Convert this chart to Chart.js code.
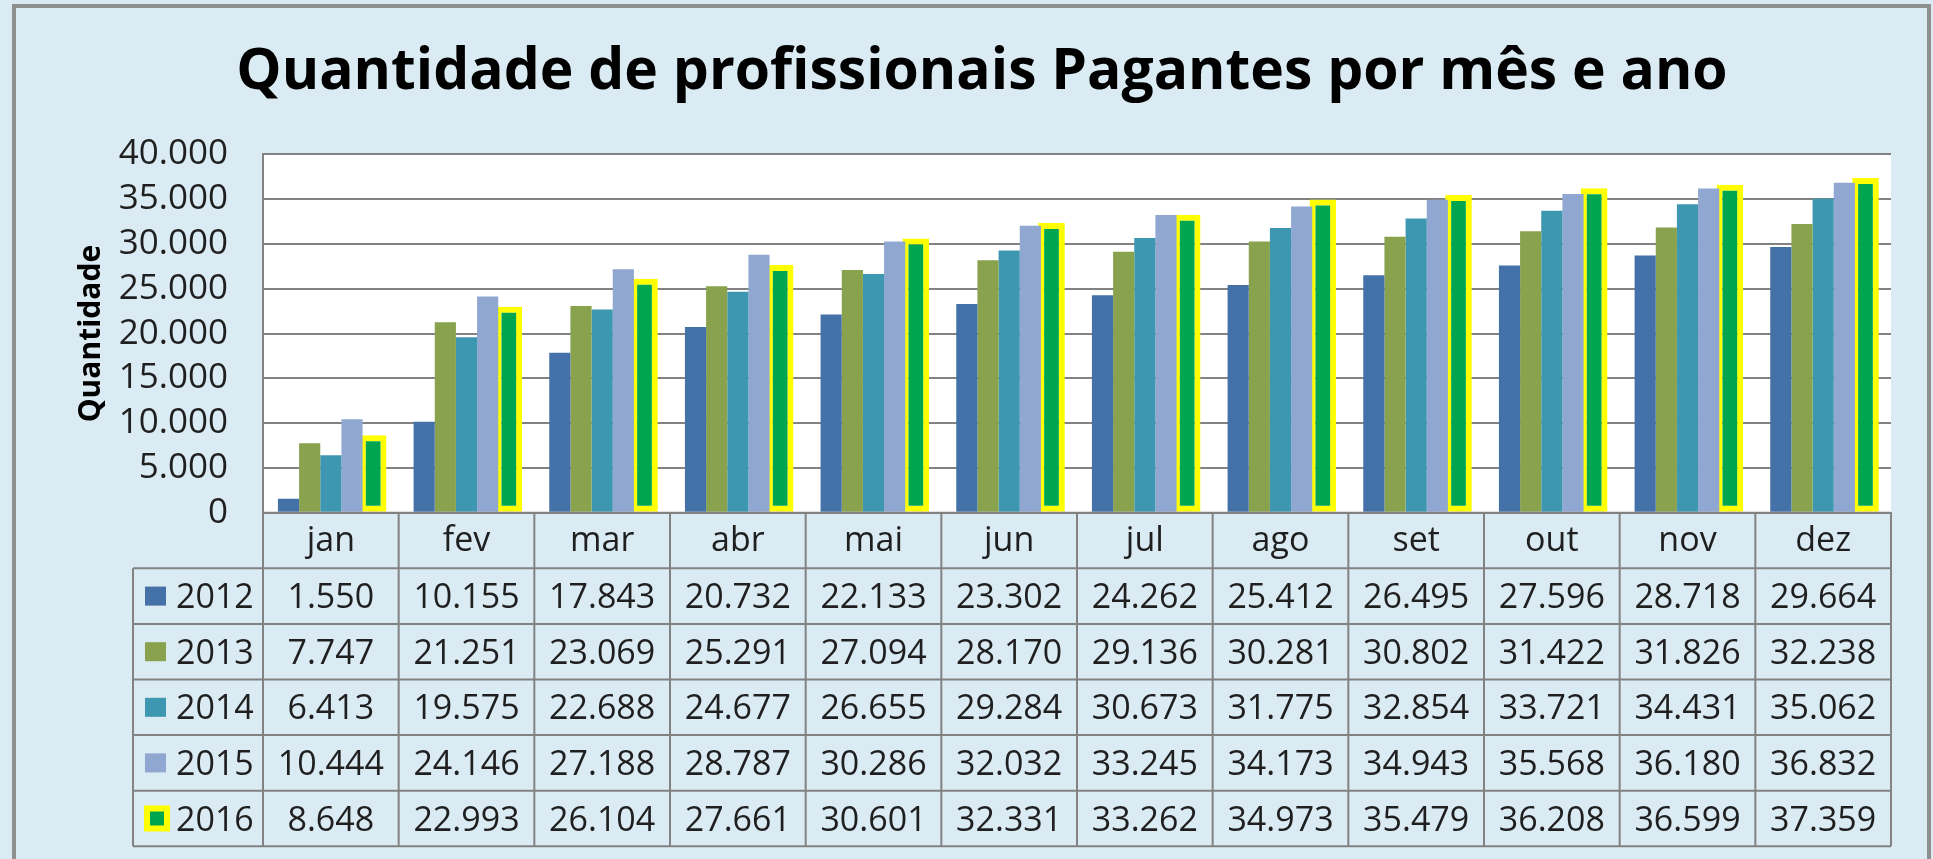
<!DOCTYPE html>
<html><head><meta charset="utf-8">
<script src="https://cdn.jsdelivr.net/npm/chart.js@4.4.1/dist/chart.umd.min.js"></script>
<style>
html,body{margin:0;padding:0;background:#fff;overflow:hidden}
#wrap{width:1933px;height:859px;position:relative}
#pre{position:absolute;left:-9999px;font-family:"Open Sans"}
</style>
</head><body>
<div id="pre"><span style="font-weight:700">Aa</span><span>Aa</span></div>
<div id="wrap"><canvas id="c" width="1933" height="859"></canvas></div>
<script>
const months = ['jan','fev','mar','abr','mai','jun','jul','ago','set','out','nov','dez'];
const years = ['2012','2013','2014','2015','2016'];
const v2012 = [1550,10155,17843,20732,22133,23302,24262,25412,26495,27596,28718,29664];
const v2013 = [7747,21251,23069,25291,27094,28170,29136,30281,30802,31422,31826,32238];
const v2014 = [6413,19575,22688,24677,26655,29284,30673,31775,32854,33721,34431,35062];
const v2015 = [10444,24146,27188,28787,30286,32032,33245,34173,34943,35568,36180,36832];
const v2016 = [8648,22993,26104,27661,30601,32331,33262,34973,35479,36208,36599,37359];
const yMin = 0, yMax = 40000, yStep = 5000;
const titleText = 'Quantidade de profissionais Pagantes por mês e ano';
const yTitle = 'Quantidade';

const colors = ['#4371a8','#88a24e','#3e97b1','#8fa7d1','#00a64f'];
const hiBorder = '#ffff00';
const seriesValues = [v2012, v2013, v2014, v2015, v2016];

function fmt(n){ return String(n).replace(/\B(?=(\d{3})+(?!\d))/g,'.'); }

const FONT = '"Open Sans", "Noto Sans", sans-serif';
const TXT = '#1f1f1f';
const LINE = '#828282';

const bgPlugin = {
  id:'bg',
  beforeDraw(chart){
    const ctx = chart.ctx, a = chart.chartArea;
    ctx.save();
    ctx.fillStyle = '#dbebf3';
    ctx.fillRect(0,0,chart.width,chart.height);
    ctx.strokeStyle = '#8d8f90';
    ctx.lineWidth = 4;
    ctx.strokeRect(14, 6, 1915, 870);
    ctx.fillStyle = '#ffffff';
    ctx.fillRect(a.left, a.top, a.right-a.left, a.bottom-a.top);
    ctx.restore();
  }
};

const tablePlugin = {
  id:'dtable',
  afterDraw(chart){
    const ctx = chart.ctx, x = chart.scales.x, a = chart.chartArea;
    const top = a.bottom, catH = 55.6, rowH = 55.6, legL = 133;
    const cw = (a.right - a.left) / months.length;
    const rowsTop = top + catH;
    const bottom = rowsTop + rowH * years.length;
    ctx.save();
    ctx.strokeStyle = LINE; ctx.lineWidth = 2;
    ctx.beginPath();
    ctx.moveTo(a.left, top); ctx.lineTo(a.right, top);
    for (let r = 0; r <= years.length; r++) {
      const y = rowsTop + r * rowH;
      ctx.moveTo(legL, y); ctx.lineTo(a.right, y);
    }
    for (let i = 0; i <= months.length; i++) {
      const xx = i < months.length ? x.getPixelForValue(i) - cw / 2 : a.right;
      ctx.moveTo(xx, top); ctx.lineTo(xx, bottom);
    }
    ctx.moveTo(legL, rowsTop); ctx.lineTo(legL, bottom);
    ctx.stroke();

    const fs = 34;
    ctx.fillStyle = TXT;
    ctx.font = fs + 'px ' + FONT;
    ctx.textAlign = 'center';
    ctx.textBaseline = 'alphabetic';
    months.forEach((m, i) => ctx.fillText(m, x.getPixelForValue(i), top + catH / 2 + 10));
    seriesValues.forEach((vals, r) => {
      const yc = rowsTop + (r + 0.5) * rowH;
      const base = yc + fs * 0.357;
      ctx.textAlign = 'center';
      ctx.fillStyle = TXT;
      vals.forEach((v, i) => ctx.fillText(fmt(v), x.getPixelForValue(i), base));
      if (r === 4) {
        ctx.fillStyle = hiBorder; ctx.fillRect(144, yc - 13, 26, 26);
        ctx.fillStyle = colors[r]; ctx.fillRect(150, yc - 7, 14, 14);
      } else {
        ctx.fillStyle = colors[r]; ctx.fillRect(145, yc - 9.5, 21, 19);
      }
      ctx.fillStyle = TXT;
      ctx.textAlign = 'left';
      ctx.fillText(years[r], 176, base);
    });
    ctx.restore();
  }
};

function build(){
  const datasets = years.map((y, i) => {
    const d = {
      label: y,
      data: seriesValues[i],
      backgroundColor: colors[i],
      borderWidth: 0,
      barPercentage: 1.0,
      categoryPercentage: 0.78
    };
    if (i === 4) {
      d.borderColor = hiBorder;
      d.borderWidth = 6;
      d.borderSkipped = false;
      d.barPercentage = 1.26;
    }
    return d;
  });
  new Chart(document.getElementById('c'), {
    type: 'bar',
    data: { labels: months, datasets },
    plugins: [bgPlugin, tablePlugin],
    options: {
      responsive: false,
      animation: false,
      events: [],
      layout: { padding: { left: 73, right: 42, top: 0, bottom: 0 } },
      plugins: {
        legend: { display: false },
        tooltip: { enabled: false },
        title: {
          display: true,
          text: titleText,
          color: '#000',
          font: { family: FONT, size: 57, weight: 'bold' },
          padding: { top: 39, bottom: 47 }
        }
      },
      scales: {
        x: {
          ticks: { display: false },
          grid: { display: false, drawTicks: false },
          border: { display: true, color: LINE, width: 2 },
          afterFit(s){ s.height = 859 - 512.7; }
        },
        y: {
          min: yMin, max: yMax,
          ticks: {
            stepSize: yStep,
            autoSkip: false,
            maxTicksLimit: 20,
            padding: 35,
            color: TXT,
            font: { family: FONT, size: 35, lineHeight: 1 },
            callback: (v) => fmt(v)
          },
          grid: { color: LINE, lineWidth: 2, drawTicks: false },
          border: { display: true, color: LINE, width: 2 },
          title: {
            display: true,
            text: yTitle,
            color: '#000',
            font: { family: FONT, size: 30, weight: 'bold' },
            padding: 0
          },
          afterFit(s){ s.width = 263 - 73; }
        }
      }
    }
  });
}
const fl = document.fonts ? Promise.all([
  document.fonts.load('bold 57px "Open Sans"'),
  document.fonts.load('34px "Open Sans"')
]) : Promise.resolve();
fl.then(build, build);
</script>
</body></html>
